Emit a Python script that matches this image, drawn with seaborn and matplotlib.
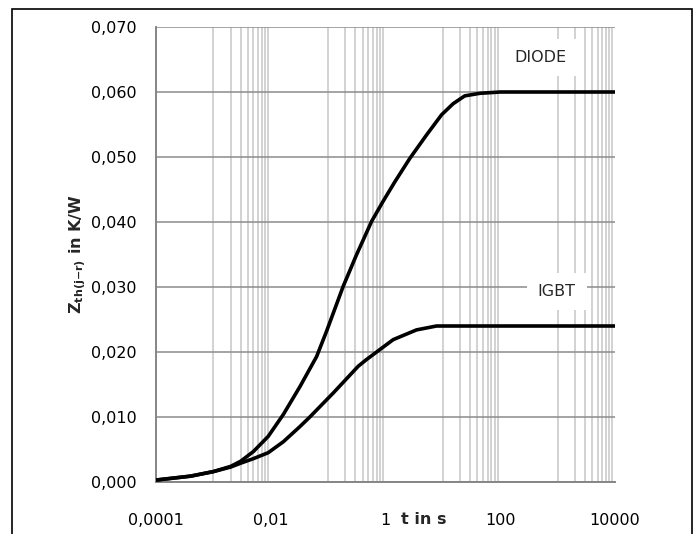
import numpy as np
import pandas as pd
import seaborn as sns
import matplotlib.pyplot as plt
from matplotlib.patches import Rectangle
from matplotlib.ticker import NullFormatter

"""data read from the chart"""

diode_t = [1e-4, 4e-4, 1e-3, 2e-3, 3e-3, 5e-3, 9e-3, 0.0166, 0.0324, 0.063, 0.094, 0.183, 0.314,
           0.573, 0.91, 1.46, 2.66, 5.2, 9.5, 15.1, 24, 44, 100, 10000]
diode_z = [0.0003, 0.0009, 0.0016, 0.0024, 0.0032, 0.0047, 0.0070, 0.0104, 0.0147, 0.0193, 0.0232,
           0.0301, 0.035, 0.0401, 0.0432, 0.0462, 0.0498, 0.0534, 0.0565, 0.0582, 0.0594, 0.0598, 0.0600, 0.0600]

igbt_t = [1e-4, 4e-4, 1e-3, 2e-3, 3e-3, 5e-3, 9e-3, 0.0166, 0.032, 0.048, 0.123, 0.334, 0.46, 0.7,
          1.36, 3.47, 7.76, 100, 10000]
igbt_z = [0.0003, 0.0009, 0.0016, 0.0023, 0.0029, 0.0036, 0.0045, 0.0062, 0.0085, 0.0100, 0.0137, 0.0178,
          0.0188, 0.0200, 0.0219, 0.0234, 0.0240, 0.0240, 0.0240]

x_ticks = [1e-4, 1e-2, 1, 1e2, 1e4]
x_labels = ['0,0001', '0,01', '1', '100', '10000']
y_ticks = [0, 0.01, 0.02, 0.03, 0.04, 0.05, 0.06, 0.07]
y_labels = ['0,000', '0,010', '0,020', '0,030', '0,040', '0,050', '0,060', '0,070']

df = pd.concat([
    pd.DataFrame({'t': diode_t, 'z': diode_z, 'part': 'DIODE'}),
    pd.DataFrame({'t': igbt_t, 'z': igbt_z, 'part': 'IGBT'}),
])

sns.set_style('white')
plt.rcParams['font.family'] = ['DejaVu Sans']

fig = plt.figure(figsize=(6.97, 5.34), dpi=100)
ax = fig.add_axes([156/697, 1-482/534, (615-156)/697, (482-27)/534])

sns.lineplot(data=df, x='t', y='z', units='part', estimator=None, color='black',
             lw=2.6, ax=ax, zorder=3, legend=False)
for l in ax.lines:
    l.set_solid_joinstyle('round')
    l.set_solid_capstyle('butt')

ax.set_xscale('log')
ax.set_xlim(1e-4, 1e4)
ax.set_ylim(0, 0.07)

# excel style gridlines: minor verticals on odd decades only
minor = [m * 10.0**e for e in (-3, -1, 1, 3) for m in range(1, 10)]
ax.set_xticks(x_ticks)
ax.set_xticklabels(x_labels)
ax.set_xticks(minor, minor=True)
ax.xaxis.set_minor_formatter(NullFormatter())
ax.set_yticks(y_ticks)
ax.set_yticklabels(y_labels)

ax.grid(False)
ax.grid(which='minor', axis='x', color='#c6c6c6', lw=1.1, zorder=0)
ax.grid(which='major', axis='y', color='#8c8c8c', lw=1.1, zorder=0)
ax.set_axisbelow(True)

for s in ['top', 'right']:
    ax.spines[s].set_visible(False)
for s in ['left', 'bottom']:
    ax.spines[s].set_color('#868686')
    ax.spines[s].set_linewidth(1.4)

ax.tick_params(axis='both', which='major', direction='out', length=5, width=1.2,
               color='#868686', labelsize=11.5, labelcolor='black')
ax.tick_params(axis='y', pad=9)
ax.tick_params(axis='x', pad=17)
ax.tick_params(axis='x', which='minor', length=0)

ax.set_xlabel('')
ax.set_ylabel(r'$\mathbf{Z_{th(j{-}r)}}$ in K/W', fontsize=11.5, fontweight='bold', labelpad=2)
fig.text(424/697, 1-520/534, 't in s', fontsize=11.5, fontweight='bold', ha='center', va='center')

ax.text(500, 0.0653, 'DIODE', fontsize=11.5, ha='center', va='center', zorder=4,
        bbox=dict(facecolor='white', edgecolor='none', pad=8))
ax.text(968, 0.0293, 'IGBT', fontsize=11.5, ha='center', va='center', zorder=4,
        bbox=dict(facecolor='white', edgecolor='none', pad=8))

# outer frame like the pasted excel chart
fig.patches.append(Rectangle((12/697, -0.05), (692-12)/697, 1.05-9/534, transform=fig.transFigure,
                             fill=False, edgecolor='black', lw=1.2))

plt.savefig('out.png', dpi=100)
